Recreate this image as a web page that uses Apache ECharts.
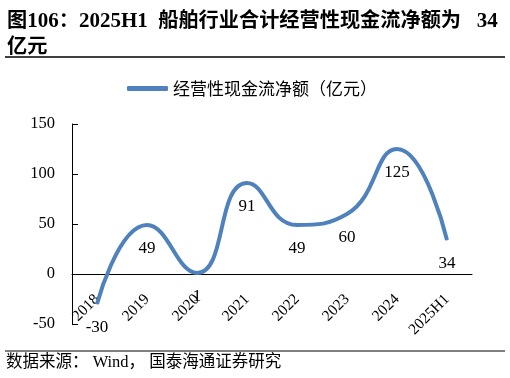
<!DOCTYPE html>
<html>
<head>
<meta charset="utf-8">
<script src="https://cdn.jsdelivr.net/npm/echarts@6/dist/echarts.min.js"></script>
<style>
  html, body { margin: 0; padding: 0; background: #fff; }
  #main { width: 510px; height: 378px; }
</style>
</head>
<body>
<div id="main"></div>
<script>
var years = ['2018', '2019', '2020', '2021', '2022', '2023', '2024', '2025H1'];
var cashFlow = [-30, 49, 1, 91, 49, 60, 125, 34];
var seriesName = '经营性现金流净额（亿元）';
var yTicks = { min: -50, max: 150, interval: 50 };

var serif = '"Liberation Serif", "Times New Roman", "Noto Sans CJK SC", serif';
var myChart = echarts.init(document.getElementById('main'));
const option = {
  title: {
    text: '{c|图}{n|106}{c|：}{n|2025H1  }{c|船舶行业合计经营性现金流净额为}{n|   34}\n{c|亿元}',
    left: 2,
    top: 4,
    textStyle: {
      fontFamily: serif,
      fontWeight: 'bold',
      fontSize: 20,
      lineHeight: 26,
      color: '#000',
      rich: {
        c: { fontFamily: serif, fontWeight: 'bold', fontSize: 20.2, lineHeight: 26, color: '#000' },
        n: { fontFamily: serif, fontWeight: 'bold', fontSize: 21, lineHeight: 26, color: '#000' }
      }
    }
  },
  legend: {
    data: [seriesName],
    left: 122,
    top: 75,
    icon: 'roundRect',
    itemWidth: 41,
    itemHeight: 5,
    itemGap: 4,
    textStyle: {
      fontFamily: '"Noto Sans CJK SC", sans-serif',
      fontSize: 17,
      color: '#000'
    }
  },
  grid: {
    left: 72,
    right: 38,
    top: 124,
    bottom: 54,
    containLabel: false,
    outerBoundsMode: 'none'
  },
  xAxis: [{
    type: 'category',
    data: years,
    axisLine: { onZero: true, lineStyle: { color: '#000', width: 1 } },
    axisTick: { inside: true, length: 6, lineStyle: { color: '#000' } },
    axisLabel: {
      rotate: 45,
      margin: -27,
      fontFamily: serif,
      fontSize: 15.5,
      color: '#000'
    }
  }],
  yAxis: [{
    type: 'value',
    min: yTicks.min,
    max: yTicks.max,
    interval: yTicks.interval,
    axisLine: { show: true, lineStyle: { color: '#000', width: 1 } },
    axisTick: { show: true, inside: true, length: 6, lineStyle: { color: '#000' } },
    splitLine: { show: false },
    axisLabel: {
      margin: 17,
      fontFamily: serif,
      fontSize: 16.5,
      color: '#000'
    }
  }],
  series: [{
    name: seriesName,
    type: 'line',
    smooth: 0.5,
    symbol: 'circle',
    symbolSize: 1,
    showSymbol: true,
    data: cashFlow,
    lineStyle: { width: 4, color: '#4f81bd' },
    itemStyle: { color: '#4f81bd' },
    label: {
      show: true,
      position: 'bottom',
      distance: 15,
      fontFamily: serif,
      fontSize: 17,
      color: '#000'
    }
  }],
  graphic: [
    { type: 'line', shape: { x1: 5, y1: 57, x2: 505, y2: 57 }, style: { stroke: '#000', lineWidth: 1.5 } },
    { type: 'line', shape: { x1: 5, y1: 351, x2: 505, y2: 351 }, style: { stroke: '#000', lineWidth: 1 } },
    {
      type: 'text', left: 6, top: 354,
      style: {
        text: '数据来源： Wind， 国泰海通证券研究',
        font: '16.5px "Liberation Serif", "Noto Sans CJK SC", serif',
        fill: '#000'
      }
    }
  ]
};
myChart.setOption(option);
window.addEventListener('resize', () => {
  myChart.resize();
});
</script>
</body>
</html>
